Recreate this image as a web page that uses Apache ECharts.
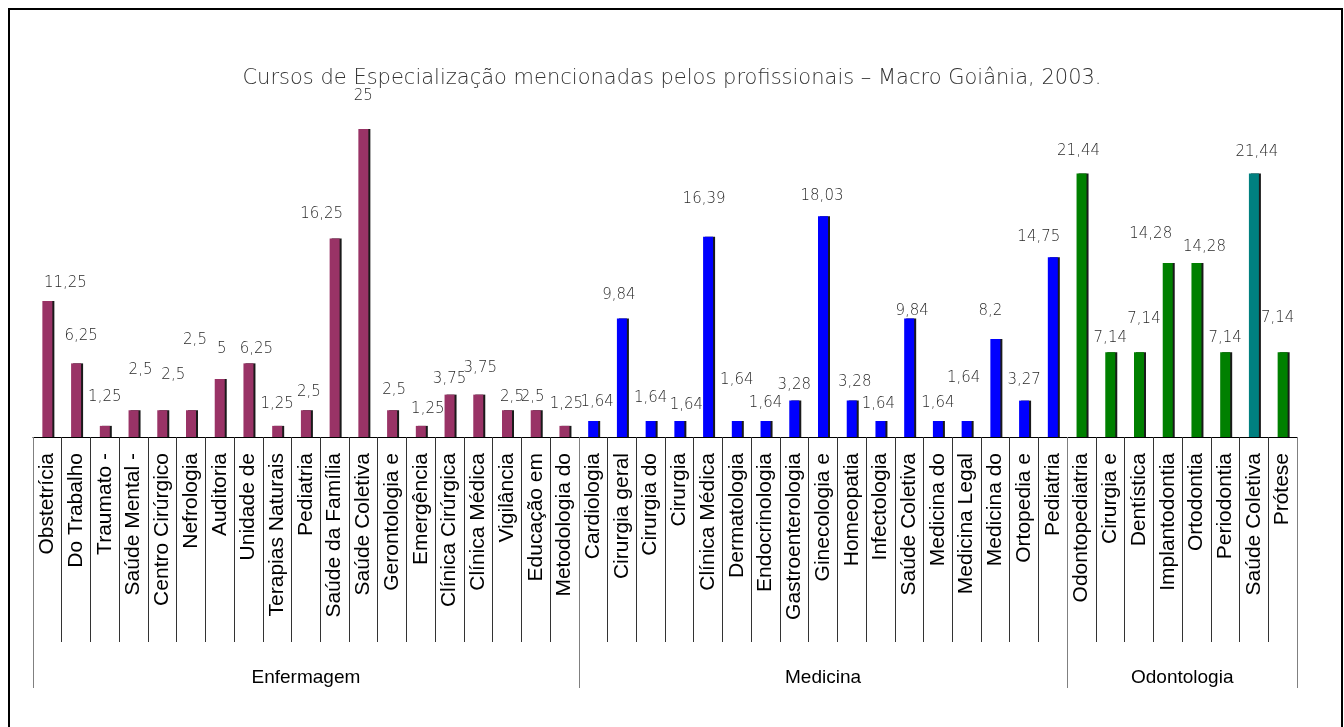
<!DOCTYPE html>
<html lang="pt">
<head>
<meta charset="UTF-8">
<title>Cursos de Especialização</title>
<script src="https://cdn.jsdelivr.net/npm/echarts@6/dist/echarts.min.js"></script>
<style>
    html, body { margin: 0; padding: 0; background: #fff; }
    #chart { width: 1344px; height: 727px; }
</style>
</head>
<body>
<div id="chart"></div>
<script>
    var titulo = 'Cursos de Especialização mencionadas pelos profissionais – Macro Goiânia, 2003.';
    var grupos = ['Enfermagem', 'Medicina', 'Odontologia'];

    var enfermagemCursos = ['Obstetrícia', 'Do Trabalho', 'Traumato -', 'Saúde Mental -', 'Centro Cirúrgico',
        'Nefrologia', 'Auditoria', 'Unidade de', 'Terapias Naturais', 'Pediatria', 'Saúde da Família',
        'Saúde Coletiva', 'Gerontologia e', 'Emergência', 'Clínica Cirúrgica', 'Clínica Médica',
        'Vigilância', 'Educação em', 'Metodologia do'];
    var enfermagemValores = [11.25, 6.25, 1.25, 2.5, 2.5, 2.5, 5, 6.25, 1.25, 2.5, 16.25, 25,
        2.5, 1.25, 3.75, 3.75, 2.5, 2.5, 1.25];

    var medicinaCursos = ['Cardiologia', 'Cirurgia geral', 'Cirurgia do', 'Cirurgia', 'Clínica Médica',
        'Dermatologia', 'Endocrinologia', 'Gastroenterologia', 'Ginecologia e', 'Homeopatia',
        'Infectologia', 'Saúde Coletiva', 'Medicina do', 'Medicina Legal', 'Medicina do',
        'Ortopedia e', 'Pediatria'];
    var medicinaValores = [1.64, 9.84, 1.64, 1.64, 16.39, 1.64, 1.64, 3.28, 18.03, 3.28,
        1.64, 9.84, 1.64, 1.64, 8.2, 3.27, 14.75];

    var odontologiaCursos = ['Odontopediatria', 'Cirurgia e', 'Dentística', 'Implantodontia',
        'Ortodontia', 'Periodontia', 'Saúde Coletiva', 'Prótese'];
    var odontologiaValores = [21.44, 7.14, 7.14, 14.28, 14.28, 7.14, 21.44, 7.14];

    // cores por grupo; a Saúde Coletiva da odontologia vem em verde-azulado
    var coresGrupo = ['#993366', '#0000ff', '#008000'];
    var corDestaque = '#008080';
    var indiceDestaque = 42;

    // deslocamento manual dos rótulos de valor (como no gráfico original)
    var ajusteRotulos = [
        [18, -10], [5, -20], [0, -21], [7, -33], [11, -28], [4, -63], [2, -22], [8, -7], [0, -14],
        [3, -11], [-13, -17], [0, -25], [2, -13], [7, -9], [0, -8], [2, -19], [5, -6], [-3, -6], [2, -14],
        [4, -11], [-3, -16], [0, -15], [7, -8], [-4, -30], [0, -33], [0, -10], [0, -8], [-1, -13],
        [3, -11], [-2, -9], [3, 0], [0, -10], [-3, -35], [-5, -20], [0, -13], [-14, -13],
        [-3, -15], [0, -7], [5, -26], [-17, -21], [8, -8], [0, -7], [3, -14], [-5, -27]
    ];

    var listas = [
        [enfermagemCursos, enfermagemValores],
        [medicinaCursos, medicinaValores],
        [odontologiaCursos, odontologiaValores]
    ];

    var categorias = [], dados = [], inicios = [], meios = {};
    listas.forEach(function (l, g) {
        var ini = categorias.length;
        inicios.push(ini);
        meios[ini + Math.floor((l[0].length - 1) / 2)] = g;
        l[0].forEach(function (c, i) {
            var idx = categorias.length;
            categorias.push(c);
            var cor = idx === indiceDestaque ? corDestaque : coresGrupo[g];
            dados.push({
                value: l[1][i],
                itemStyle: { color: cor },
                label: { offset: ajusteRotulos[idx] }
            });
        });
    });

    var chart = echarts.init(document.getElementById('chart'));
    chart.setOption({
        animation: false,
        title: {
            text: titulo,
            left: 'center',
            top: 63,
            textStyle: { fontFamily: 'DejaVu Sans', fontWeight: 200, fontSize: 21, color: '#333' }
        },
        graphic: [{
            type: 'rect',
            shape: { x: 9, y: 9, width: 1333, height: 740 },
            style: { fill: 'none', stroke: '#000', lineWidth: 2 },
            silent: true
        }],
        grid: { left: 33, right: 47, top: 129, bottom: 290, outerBoundsMode: 'none' },
        xAxis: [{
            type: 'category',
            data: categorias,
            axisLine: { lineStyle: { color: '#000', width: 1 } },
            axisTick: { show: true, interval: 0, length: 205, lineStyle: { color: '#333' } },
            axisLabel: {
                interval: 0,
                rotate: 90,
                margin: 16,
                color: '#000',
                fontFamily: 'Liberation Sans',
                fontSize: 21
            }
        }, {
            type: 'category',
            data: categorias,
            position: 'bottom',
            axisLine: { show: false },
            axisTick: {
                show: true,
                length: 251,
                interval: function (i) { return inicios.indexOf(i) > -1; },
                lineStyle: { color: '#808080' }
            },
            axisLabel: {
                interval: function (i) { return meios[i] !== undefined; },
                margin: 231,
                color: '#000',
                fontFamily: 'Liberation Sans',
                fontSize: 19,
                formatter: function (v, i) {
                    var g = meios[i];
                    if (g === undefined) return '';
                    // grupo com número par de barras: centraliza na fronteira
                    if (listas[g][0].length % 2 === 0) return '{par|' + grupos[g] + '}';
                    return grupos[g];
                },
                rich: {
                    par: { padding: [0, 0, 0, 29], fontFamily: 'Liberation Sans', fontSize: 19, color: '#000' }
                }
            }
        }],
        yAxis: {
            type: 'value',
            min: 0.36,
            max: 25,
            show: false,
            splitLine: { show: false }
        },
        series: [{
            type: 'bar',
            data: dados,
            barWidth: 10,
            clip: true,
            itemStyle: { shadowColor: '#1a1a1a', shadowOffsetX: 2, shadowOffsetY: 0, shadowBlur: 0 },
            label: {
                show: true,
                position: 'top',
                distance: 0,
                fontFamily: 'DejaVu Sans',
                fontWeight: 200,
                fontSize: 15,
                color: '#2a2a2a',
                formatter: function (p) { return String(p.value).replace('.', ','); }
            }
        }]
    });
</script>
</body>
</html>
